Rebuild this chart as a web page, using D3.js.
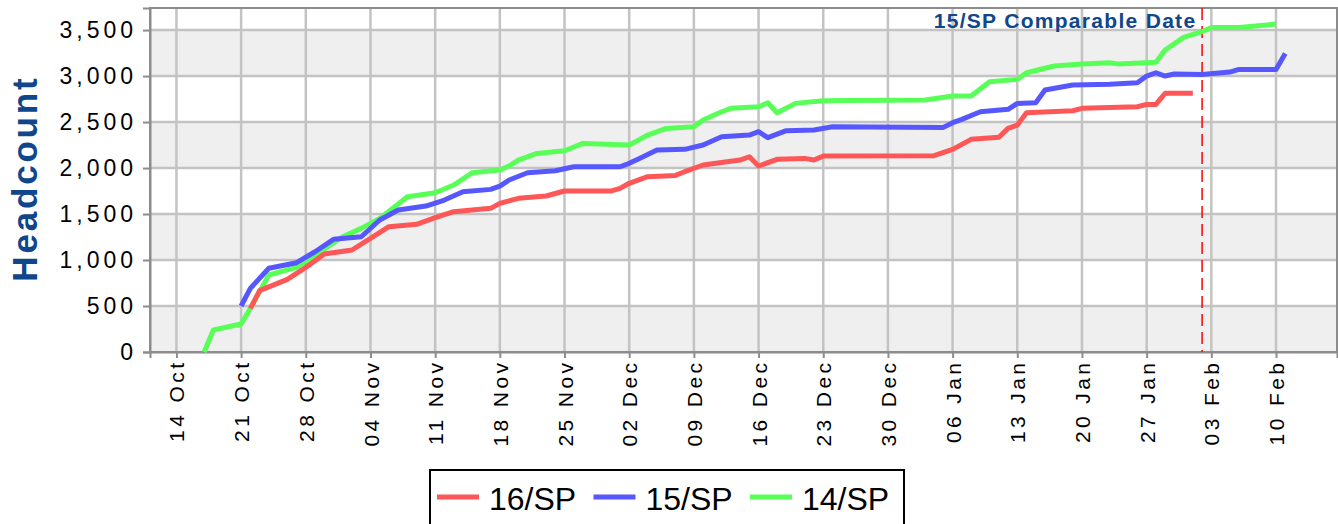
<!DOCTYPE html>
<html>
<head>
<meta charset="utf-8">
<script src="https://cdn.jsdelivr.net/npm/d3@7"></script>
<style>
  body { margin: 0; background: #fff; }
  svg { display: block; font-family: "Liberation Sans", Arial, sans-serif; }
</style>
</head>
<body>
<div id="chart"></div>
<script>
// Series data (date, headcount)
var red16Dates = ["2015-10-22","2015-10-23","2015-10-26","2015-10-28","2015-10-30",
  "2015-11-02","2015-11-04","2015-11-06","2015-11-09","2015-11-11","2015-11-13","2015-11-17","2015-11-18","2015-11-20","2015-11-23","2015-11-25","2015-11-30",
  "2015-12-01","2015-12-02","2015-12-04","2015-12-07","2015-12-08","2015-12-10","2015-12-14","2015-12-15","2015-12-16","2015-12-18","2015-12-21","2015-12-22","2015-12-23",
  "2016-01-04","2016-01-06","2016-01-08","2016-01-11","2016-01-12","2016-01-13","2016-01-14","2016-01-19","2016-01-20","2016-01-26","2016-01-27","2016-01-28","2016-01-29",
  "2016-02-01"];
var red16Values = [475,667,790,920,1065,
  1109,1236,1362,1388,1460,1525,1562,1616,1671,1696,1750,1750,
  1779,1834,1906,1920,1960,2033,2087,2123,2022,2095,2105,2087,2130,
  2135,2203,2312,2334,2431,2467,2601,2623,2649,2666,2692,2692,2812,
  2812];

var blue15Dates = ["2015-10-21","2015-10-22","2015-10-24","2015-10-27","2015-10-29","2015-10-31",
  "2015-11-03","2015-11-05","2015-11-07","2015-11-10","2015-11-12","2015-11-14","2015-11-17","2015-11-18","2015-11-19","2015-11-21","2015-11-24","2015-11-26",
  "2015-12-01","2015-12-02","2015-12-03","2015-12-05","2015-12-08","2015-12-10","2015-12-12","2015-12-15","2015-12-16","2015-12-17","2015-12-19","2015-12-22","2015-12-24",
  "2016-01-05","2016-01-06","2016-01-07","2016-01-09","2016-01-12","2016-01-13","2016-01-15","2016-01-16","2016-01-19","2016-01-23","2016-01-26","2016-01-27","2016-01-28","2016-01-29","2016-01-30",
  "2016-02-02","2016-02-05","2016-02-06","2016-02-10","2016-02-11"];
var blue15Values = [500,692,910,971,1090,1225,
  1253,1435,1543,1587,1652,1742,1768,1804,1870,1949,1971,2014,
  2014,2051,2098,2196,2203,2250,2340,2359,2395,2330,2406,2413,2449,
  2442,2493,2529,2612,2638,2703,2710,2848,2902,2910,2927,3000,3036,3000,3022,
  3018,3043,3072,3072,3245];

var green14Dates = ["2015-10-17","2015-10-18","2015-10-21","2015-10-22","2015-10-24","2015-10-27","2015-10-29",
  "2015-11-01","2015-11-03","2015-11-05","2015-11-08","2015-11-11","2015-11-13","2015-11-15","2015-11-18","2015-11-19","2015-11-20","2015-11-22","2015-11-25","2015-11-27",
  "2015-12-02","2015-12-03","2015-12-04","2015-12-06","2015-12-09","2015-12-10","2015-12-12","2015-12-13","2015-12-16","2015-12-17","2015-12-18","2015-12-20","2015-12-23","2015-12-26",
  "2016-01-03","2016-01-06","2016-01-08","2016-01-10","2016-01-13","2016-01-14","2016-01-17","2016-01-20","2016-01-23","2016-01-24","2016-01-28","2016-01-29","2016-01-31",
  "2016-02-02","2016-02-03","2016-02-06","2016-02-10"];
var green14Values = [0,239,304,475,837,920,1054,
  1253,1344,1453,1688,1732,1815,1949,1978,2022,2087,2159,2188,2268,
  2250,2304,2359,2431,2449,2522,2612,2649,2666,2710,2601,2703,2732,2735,
  2739,2783,2783,2938,2964,3036,3109,3130,3145,3130,3150,3283,3420,
  3482,3529,3529,3565];

var seriesNames = ["16/SP", "15/SP", "14/SP"];
var seriesColors = ["#ff5757", "#5757ff", "#57ff57"];

// Axis ticks
var tickLabels = ["14 Oct 2015","21 Oct 2015","28 Oct 2015","04 Nov 2015","11 Nov 2015","18 Nov 2015",
  "25 Nov 2015","02 Dec 2015","09 Dec 2015","16 Dec 2015","23 Dec 2015","30 Dec 2015",
  "06 Jan 2016","13 Jan 2016","20 Jan 2016","27 Jan 2016","03 Feb 2016","10 Feb 2016"];
var yTicks = [0, 500, 1000, 1500, 2000, 2500, 3000, 3500];

var comparableDate = "2016-02-02";
var comparableLabel = "15/SP Comparable Date";

// Dimensions
var svgWidth = 1338;
var svgHeight = 524;
var margin = { top: 8, right: 1, bottom: 172, left: 150 };
var chartWidth = svgWidth - margin.left - margin.right;
var chartHeight = svgHeight - margin.top - margin.bottom;

var parseDate = d3.utcParse("%Y-%m-%d");
var parseTick = d3.utcParse("%d %b %Y");
var formatTick = d3.utcFormat("%d %b");

// Widen text by a fixed gap between letters (letter-spacing is not reliable on svg text)
function spaceText(sel, gap) {
  sel.each(function() {
    var n = this.textContent.length;
    var w = this.getComputedTextLength();
    d3.select(this)
      .attr("textLength", w + (n - 1) * gap)
      .attr("lengthAdjust", "spacing");
  });
}

var series = [
  { name: seriesNames[0], color: seriesColors[0], values: red16Dates.map((d, i) => ({ date: parseDate(d), value: red16Values[i] })) },
  { name: seriesNames[1], color: seriesColors[1], values: blue15Dates.map((d, i) => ({ date: parseDate(d), value: blue15Values[i] })) },
  { name: seriesNames[2], color: seriesColors[2], values: green14Dates.map((d, i) => ({ date: parseDate(d), value: green14Values[i] })) }
];

var svg = d3.select("#chart")
  .append("svg")
  .attr("width", svgWidth)
  .attr("height", svgHeight);

var chartGroup = svg.append("g")
  .attr("transform", `translate(${margin.left}, ${margin.top})`);

// Scales
var xScale = d3.scaleUtc()
  .domain([new Date(Date.UTC(2015, 9, 11, 3, 20)), new Date(Date.UTC(2016, 1, 16, 14, 24))])
  .range([0, chartWidth]);

var yScale = d3.scaleLinear()
  .domain([0, 3740])
  .range([chartHeight, 0]);

// Alternating bands
var bandStarts = yTicks.filter((d, i) => i % 2 === 0);
chartGroup.selectAll("rect.band")
  .data(bandStarts)
  .enter()
  .append("rect")
  .classed("band", true)
  .attr("x", 0)
  .attr("width", chartWidth)
  .attr("y", d => yScale(d + 500))
  .attr("height", d => yScale(d) - yScale(d + 500))
  .attr("fill", "#efefef");

var tickDates = tickLabels.map(parseTick);

// Gridlines
chartGroup.selectAll("line.vgrid")
  .data(tickDates)
  .enter()
  .append("line")
  .attr("x1", d => xScale(d))
  .attr("x2", d => xScale(d))
  .attr("y1", 0)
  .attr("y2", chartHeight)
  .attr("stroke", "#c3c3c3")
  .attr("stroke-width", 2.5);

chartGroup.selectAll("line.hgrid")
  .data(yTicks.slice(1))
  .enter()
  .append("line")
  .attr("x1", 0)
  .attr("x2", chartWidth)
  .attr("y1", d => yScale(d))
  .attr("y2", d => yScale(d))
  .attr("stroke", "#c3c3c3")
  .attr("stroke-width", 2.5);

// Plot frame
chartGroup.append("rect")
  .attr("width", chartWidth)
  .attr("height", chartHeight)
  .attr("fill", "none")
  .attr("stroke", "#8c8c8c")
  .attr("stroke-width", 2);

// Axes
var yAxis = d3.axisLeft(yScale)
  .tickValues(yTicks)
  .tickFormat(d3.format(","))
  .tickSize(7)
  .tickPadding(10);

var xAxis = d3.axisBottom(xScale)
  .tickValues(tickDates)
  .tickFormat(formatTick)
  .tickSize(6);

var yAxisGroup = chartGroup.append("g").call(yAxis);
yAxisGroup.select(".domain").attr("stroke", "#8c8c8c").attr("stroke-width", 2);
yAxisGroup.selectAll(".tick line").attr("stroke", "#8c8c8c").attr("stroke-width", 2);
yAxisGroup.selectAll(".tick text")
  .attr("font-size", "23px")
  .attr("fill", "#000")
  .attr("x", -17)
  .attr("font-family", "Liberation Sans, Arial, sans-serif")
  .call(spaceText, 4);

var xAxisGroup = chartGroup.append("g")
  .attr("transform", `translate(0, ${chartHeight})`)
  .call(xAxis);
xAxisGroup.select(".domain").attr("stroke", "#8c8c8c").attr("stroke-width", 2);
xAxisGroup.selectAll(".tick line").attr("stroke", "#8c8c8c").attr("stroke-width", 2);
xAxisGroup.selectAll(".tick text")
  .attr("font-size", "21px")
  .attr("fill", "#000")
  .attr("font-family", "Liberation Sans, Arial, sans-serif")
  .attr("text-anchor", "end")
  .attr("transform", "rotate(-90)")
  .attr("x", -11)
  .attr("y", 0)
  .attr("dy", "0.36em")
  .call(spaceText, 3.4);

// Comparable date marker
var compX = xScale(parseDate(comparableDate));
chartGroup.append("line")
  .attr("x1", compX)
  .attr("x2", compX)
  .attr("y1", 0)
  .attr("y2", chartHeight)
  .attr("stroke", "#ff0000")
  .attr("stroke-width", 1.5)
  .attr("stroke-dasharray", "12,6");

chartGroup.append("text")
  .attr("x", compX - 7)
  .attr("y", 20)
  .attr("text-anchor", "end")
  .attr("font-size", "21px")
  .attr("font-weight", "bold")
  .attr("fill", "#0f468c")
  .text(comparableLabel)
  .call(spaceText, 1.3);

// Lines
var line = d3.line()
  .x(d => xScale(d.date))
  .y(d => yScale(d.value));

chartGroup.selectAll("path.series")
  .data(series.slice().reverse())
  .enter()
  .append("path")
  .classed("series", true)
  .attr("d", d => line(d.values))
  .attr("fill", "none")
  .attr("stroke", d => d.color)
  .attr("stroke-width", 5)
  .attr("stroke-linejoin", "round");

// Y axis title
svg.append("text")
  .attr("transform", "rotate(-90)")
  .attr("x", -180)
  .attr("y", 37)
  .attr("text-anchor", "middle")
  .attr("font-size", "35px")
  .attr("font-weight", "bold")
  .attr("fill", "#0f468c")
  .text("Headcount")
  .call(spaceText, 2.8);

// Legend
var legend = svg.append("g")
  .attr("transform", "translate(430, 470)");

legend.append("rect")
  .attr("width", 474)
  .attr("height", 70)
  .attr("fill", "#fff")
  .attr("stroke", "#000")
  .attr("stroke-width", 2);

var legendItems = legend.selectAll("g.item")
  .data(series)
  .enter()
  .append("g")
  .classed("item", true)
  .attr("transform", (d, i) => `translate(${7 + i * 156.5}, 27)`);

legendItems.append("line")
  .attr("x1", 0)
  .attr("x2", 42)
  .attr("stroke", d => d.color)
  .attr("stroke-width", 5);

legendItems.append("text")
  .attr("x", 52)
  .attr("y", 13)
  .attr("font-size", "32px")
  .attr("fill", "#000")
  .text(d => d.name);
</script>
</body>
</html>
